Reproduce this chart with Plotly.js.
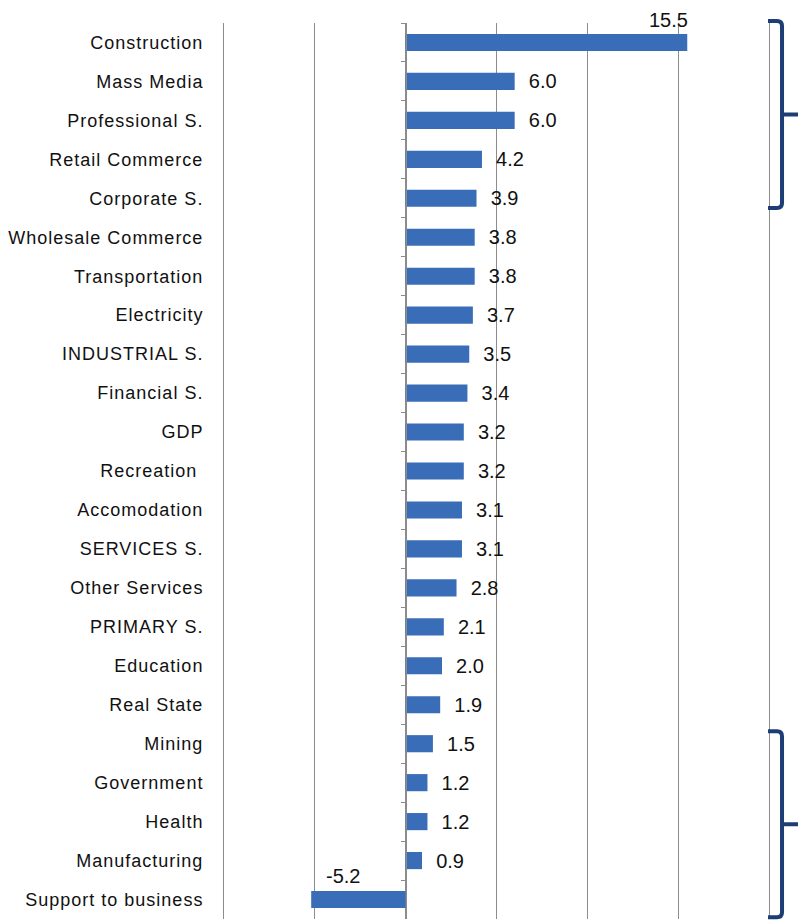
<!DOCTYPE html>
<html>
<head>
<meta charset="utf-8">
<script src="https://cdn.plot.ly/plotly-3.0.1.min.js"></script>
<style>
html,body{margin:0;padding:0;background:#fff;}
#chart{width:798px;height:923px;}
#chart .ytick text{letter-spacing:1px;}
</style>
</head>
<body>
<div id="chart"></div>
<script>
const categories = ['Construction','Mass Media','Professional S.','Retail Commerce','Corporate S.','Wholesale Commerce','Transportation','Electricity','INDUSTRIAL S.','Financial S.','GDP','Recreation ','Accomodation','SERVICES S.','Other Services','PRIMARY S.','Education','Real State','Mining','Government','Health','Manufacturing','Support to business'];
const values = [15.5,6.0,6.0,4.2,3.9,3.8,3.8,3.7,3.5,3.4,3.2,3.2,3.1,3.1,2.8,2.1,2.0,1.9,1.5,1.2,1.2,0.9,-5.2];
// labels drawn above the bar in the original
const aboveLabels = ['Construction','Support to business'];
// bracket groups: first and last category of each bracket
const bracketGroups = [['Construction','Corporate S.'],['Mining','Support to business']];

const xRange = [-10, 20];
const FONT = 'Liberation Sans, Arial, sans-serif';
const GRID = '#8c8c8c';
const TXT = '#111';

const M = {l:224, r:29, t:23, b:4};
const W = 798, H = 923;
const plotW = W - M.l - M.r, plotH = H - M.t - M.b;
const nCat = categories.length;

const textArr = values.map((v,i) => aboveLabels.includes(categories[i]) ? '' : '\u00a0\u00a0' + v.toFixed(1));

const bars = {
  type:'bar', orientation:'h', x: values, y: categories,
  marker:{color:'#3a6db7', line:{width:0}},
  text: textArr, textposition:'outside', cliponaxis:false, constraintext:'none',
  textfont:{family:FONT, size:20, color:TXT},
  hoverinfo:'x+y'
};
const ghost = {
  type:'scatter', mode:'markers', x: values, y: categories, yaxis:'y2',
  marker:{opacity:0}, hoverinfo:'skip', showlegend:false
};

const annotations = aboveLabels.map(c => {
  const i = categories.indexOf(c);
  const v = values[i];
  return v >= 0
    ? {x:v, y:c, text:v.toFixed(1), showarrow:false, xanchor:'right', yanchor:'bottom', yshift:9, xshift:3,
       font:{family:FONT, size:20, color:TXT}}
    : {x:v, y:c, text:v.toFixed(1), showarrow:false, xanchor:'left', yanchor:'bottom', yshift:11, xshift:13,
       font:{family:FONT, size:20, color:TXT}};
});

// brackets (decoration) built from category positions
function pxX(p){ return (p - M.l) / plotW; }
function catPx(idx){ return M.t + (idx + 0.5) * plotH / nCat; }
function pyY(p){ return 1 - (p - M.t) / plotH; }
const shapes = bracketGroups.map(g => {
  const i0 = categories.indexOf(g[0]), i1 = categories.indexOf(g[1]);
  const top = catPx(i0) - 0.45 * plotH / nCat - (i0===0 ? 4 : -5);
  const bot = catPx(i1) + 0.3 * plotH / nCat + (i1===nCat-1 ? 6 : -2);
  const mid = (top + bot) / 2;
  const x0 = 768, xv = 782, xt = 800, r = 5;
  const P = (x,y) => pxX(x).toFixed(4) + ',' + pyY(y).toFixed(4);
  const path = 'M' + P(x0, top) + ' L' + P(xv - r, top) + ' Q' + P(xv, top) + ' ' + P(xv, top + r) +
    ' L' + P(xv, bot - r) + ' Q' + P(xv, bot) + ' ' + P(xv - r, bot) + ' L' + P(x0, bot) +
    ' M' + P(xv, mid) + ' L' + P(xt, mid);
  return {type:'path', xref:'paper', yref:'paper', path: path, line:{color:'#1d3e74', width:4}};
});

const layout = {
  width: W, height: H,
  margin: M,
  paper_bgcolor:'#fff', plot_bgcolor:'#fff',
  showlegend:false,
  bargap: 0.56,
  xaxis:{range:xRange, tick0:0, dtick:5, showgrid:true, gridcolor:GRID, gridwidth:1,
         zeroline:true, zerolinecolor:GRID, zerolinewidth:1, showticklabels:false, ticks:'', fixedrange:true},
  yaxis:{type:'category', categoryorder:'array', categoryarray:categories, range:[nCat-0.5, -0.5],
         showgrid:false, ticks:'outside', ticklen:16, tickcolor:'rgba(0,0,0,0)', automargin:false,
         showline:true, mirror:true, linecolor:GRID, linewidth:1,
         tickfont:{family:FONT, size:18, color:TXT}, fixedrange:true},
  yaxis2:{type:'category', overlaying:'y', matches:'y', anchor:'free',
          position:(0 - xRange[0]) / (xRange[1] - xRange[0]), side:'left',
          showline:true, linecolor:GRID, linewidth:1, ticks:'outside', ticklen:5, tickcolor:GRID,
          tickson:'boundaries', showticklabels:false, showgrid:false, fixedrange:true},
  annotations: annotations,
  shapes: shapes
};

Plotly.newPlot('chart', [bars, ghost], layout, {displayModeBar:false, staticPlot:true});
</script>
</body>
</html>
